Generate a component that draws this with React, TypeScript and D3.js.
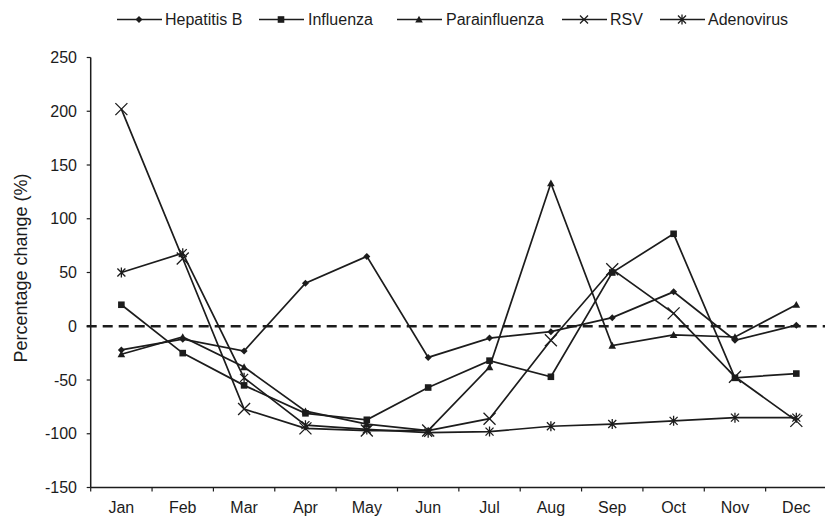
import React from "react";
import * as d3 from "d3";

const months = ["Jan", "Feb", "Mar", "Apr", "May", "Jun", "Jul", "Aug", "Sep", "Oct", "Nov", "Dec"];
const hepatitisB = [-22, -12, -23, 40, 65, -29, -11, -5, 8, 32, -13, 1];
const influenza = [20, -25, -55, -81, -87, -57, -32, -47, 50, 86, -48, -44];
const parainfluenza = [-26, -10, -38, -79, -91, -97, -38, 133, -18, -8, -10, 20];
const rsv = [202, 63, -77, -95, -97, -97, -86, -13, 53, 12, -47, -88];
const adenovirus = [50, 68, -48, -92, -96, -99, -98, -93, -91, -88, -85, -85];
const yTicks = [-150, -100, -50, 0, 50, 100, 150, 200, 250];

const seriesNames = ["Hepatitis B", "Influenza", "Parainfluenza", "RSV", "Adenovirus"];
const seriesValues = [hepatitisB, influenza, parainfluenza, rsv, adenovirus];
const markerTypes = ["diamond", "square", "triangle", "x", "star"];

const INK = "#1c1c1c";
const FONT = "'Liberation Sans', Arial, sans-serif";

function Marker({ type, x, y, big }: { type: string; x: number; y: number; big?: boolean }) {
  if (type === "diamond") {
    const s = 3.5;
    return <path d={`M${x},${y - s}L${x + s},${y}L${x},${y + s}L${x - s},${y}Z`} fill={INK} />;
  }
  if (type === "square") {
    const s = 3.3;
    return <rect x={x - s} y={y - s} width={2 * s} height={2 * s} fill={INK} />;
  }
  if (type === "triangle") {
    const s = 3.8;
    return <path d={`M${x},${y - s}L${x + s},${y + s * 0.8}L${x - s},${y + s * 0.8}Z`} fill={INK} />;
  }
  if (type === "x") {
    const s = big ? 6 : 4;
    return (
      <path
        d={`M${x - s},${y - s}L${x + s},${y + s}M${x - s},${y + s}L${x + s},${y - s}`}
        stroke={INK}
        strokeWidth={1.3}
        fill="none"
      />
    );
  }
  const s = 4;
  return (
    <path
      d={`M${x - s},${y - s}L${x + s},${y + s}M${x - s},${y + s}L${x + s},${y - s}M${x},${y - s - 1}L${x},${y + s + 1}`}
      stroke={INK}
      strokeWidth={1.3}
      fill="none"
    />
  );
}

export default function App() {
  const W = 825;
  const H = 519;
  const left = 90.7;
  const right = 827;
  const top = 57.5;
  const bottom = 487.5;

  const x = d3.scaleBand<string>().domain(months).range([left, right]);
  const xc = (m: string) => (x(m) as number) + x.bandwidth() / 2;
  const y = d3.scaleLinear().domain([-150, 250]).range([bottom, top]);

  const line = d3
    .line<number>()
    .x((_, i) => xc(months[i]))
    .y((d) => y(d));

  const legendItems = [
    { x: 117, tx: 165 },
    { x: 259, tx: 308 },
    { x: 397, tx: 446 },
    { x: 562, tx: 610 },
    { x: 660, tx: 708 },
  ];
  const legendY = 19.5;

  return (
    <svg
      width={W}
      height={H}
      style={{ position: "absolute", left: 0, top: 0, background: "#fff" }}
      fontFamily={FONT}
    >
      <rect x={0} y={0} width={W} height={H} fill="#fff" />
      {seriesNames.map((name, i) => {
        const it = legendItems[i];
        return (
          <g key={name}>
            <line x1={it.x} x2={it.x + 45} y1={legendY} y2={legendY} stroke={INK} strokeWidth={1.7} />
            <Marker type={markerTypes[i]} x={it.x + 22} y={legendY} />
            <text x={it.tx} y={legendY + 5.7} fontSize={16} fill={INK}>
              {name}
            </text>
          </g>
        );
      })}

      <line x1={left} x2={left} y1={top} y2={bottom} stroke={INK} strokeWidth={1.5} />
      {yTicks.map((t) => (
        <g key={t}>
          <line x1={left - 4} x2={left} y1={y(t)} y2={y(t)} stroke={INK} strokeWidth={1.2} />
          <text x={77} y={y(t) + 5.7} fontSize={16} textAnchor="end" fill={INK}>
            {t}
          </text>
        </g>
      ))}
      <text
        transform={`translate(27,268) rotate(-90)`}
        fontSize={18}
        textAnchor="middle"
        fill={INK}
      >
        Percentage change (%)
      </text>

      <line x1={left} x2={W} y1={bottom} y2={bottom} stroke={INK} strokeWidth={1.5} />
      {months.map((m) => (
        <g key={m}>
          <line x1={x(m) as number} x2={x(m) as number} y1={bottom} y2={bottom + 4} stroke={INK} strokeWidth={1.2} />
          <text x={xc(m)} y={513} fontSize={16} textAnchor="middle" fill={INK}>
            {m}
          </text>
        </g>
      ))}

      <line
        x1={left - 4}
        x2={W}
        y1={y(0)}
        y2={y(0)}
        stroke={INK}
        strokeWidth={2.6}
        strokeDasharray="10,6"
      />

      {seriesValues.map((vals, si) => (
        <g key={seriesNames[si]}>
          <path d={line(vals) as string} fill="none" stroke={INK} strokeWidth={1.7} />
          {vals.map((v, i) => (
            <Marker key={i} type={markerTypes[si]} x={xc(months[i])} y={y(v)} big={si === 3} />
          ))}
        </g>
      ))}
    </svg>
  );
}
